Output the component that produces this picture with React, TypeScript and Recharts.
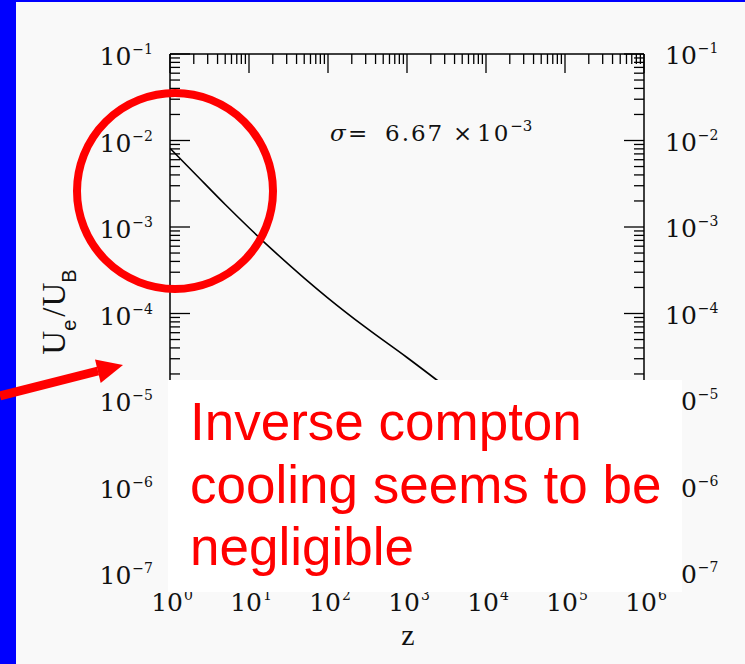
import { Line, LineChart, XAxis, YAxis } from "recharts";

// U_e/U_B against redshift z
const zValues = [1, 2, 5, 10, 20, 50, 100, 300, 1000, 3000];
const energyRatio = [8.13e-3, 4.27e-3, 1.82e-3, 9.8e-4, 5.4e-4, 2.57e-4, 1.51e-4, 6.9e-5, 3.1e-5, 1.45e-5];

const xMajorTicks = [1, 10, 100, 1e3, 1e4, 1e5, 1e6];
const xExponents = ["0", "1", "2", "3", "4", "5", "6"];
const yMajorTicks = [1e-7, 1e-6, 1e-5, 1e-4, 1e-3, 1e-2, 1e-1];
const yExponents = ["−7", "−6", "−5", "−4", "−3", "−2", "−1"];
const minorSteps = [2, 3, 4, 5, 6, 7, 8, 9];

const noteLines = ["Inverse compton", "cooling seems to be", "negligible"];

const data = zValues.map((z, i) => ({ z, u: energyRatio[i] }));

const withMinors = (majors: number[]) => [
  ...majors,
  ...majors.slice(0, -1).flatMap((d) => minorSteps.map((m) => m * d)),
];
const xTicks = withMinors(xMajorTicks);
const yTicks = withMinors(yMajorTicks);

const SERIF = "'Liberation Serif', 'Times New Roman', serif";
const WIDE_SERIF = "'DejaVu Serif', serif";
const SANS = "'Liberation Sans', Arial, sans-serif";
const MAJOR = 20;
const MINOR = 10;

function PowerLabel(props: any) {
  const { x, y, exp, anchor } = props;
  return (
    <text x={x} y={y} textAnchor={anchor} fontFamily={WIDE_SERIF} fontSize={25} fill="#111">
      10
      <tspan dx={1} dy={-11} fontSize={14}>
        {exp}
      </tspan>
    </text>
  );
}

function BottomTick(props: any) {
  const { x, y, payload } = props;
  const i = xMajorTicks.indexOf(payload.value);
  return (
    <g>
      <line x1={x} x2={x} y1={y} y2={y - (i >= 0 ? MAJOR : MINOR)} stroke="#000" strokeWidth={1.3} />
      {i >= 0 && <PowerLabel x={x + 2} y={y + 38} exp={xExponents[i]} anchor="middle" />}
    </g>
  );
}

function TopTick(props: any) {
  const { x, y, payload } = props;
  const major = xMajorTicks.includes(payload.value);
  return <line x1={x} x2={x} y1={y} y2={y + (major ? MAJOR - 1 : MINOR)} stroke="#000" strokeWidth={1.3} />;
}

function LeftTick(props: any) {
  const { x, y, payload } = props;
  const i = yMajorTicks.indexOf(payload.value);
  return (
    <g>
      <line x1={x} x2={x + (i >= 0 ? MAJOR : MINOR)} y1={y} y2={y} stroke="#000" strokeWidth={1.3} />
      {i >= 0 && <PowerLabel x={x - 17} y={y + 11} exp={yExponents[i]} anchor="end" />}
    </g>
  );
}

function RightTick(props: any) {
  const { x, y, payload } = props;
  const i = yMajorTicks.indexOf(payload.value);
  return (
    <g>
      <line x1={x} x2={x - (i >= 0 ? MAJOR : MINOR)} y1={y} y2={y} stroke="#000" strokeWidth={1.3} />
      {i >= 0 && <PowerLabel x={x + 21} y={y + 10} exp={yExponents[i]} anchor="start" />}
    </g>
  );
}

const axisLine = { stroke: "#000", strokeWidth: 1.5 };

export default function App() {
  return (
    <div
      style={{
        position: "absolute",
        left: 0,
        top: 0,
        width: 745,
        height: 664,
        background: "#f9f9f9",
        overflow: "hidden",
      }}
    >
      <div style={{ position: "absolute", left: 0, top: 0, width: 16, height: 664, background: "#0000ff" }} />
      <div style={{ position: "absolute", left: 0, top: 0, width: 745, height: 2, background: "#0000ff" }} />

      <div style={{ position: "absolute", left: 0, top: 0 }}>
        <LineChart width={745} height={664} data={data} margin={{ top: 34, right: 41, bottom: 51, left: 110 }}>
          <XAxis
            xAxisId="bottom"
            dataKey="z"
            type="number"
            scale="log"
            domain={[1, 1e6]}
            allowDataOverflow
            ticks={xTicks}
            interval={0}
            height={40}
            tickSize={0}
            tickMargin={0}
            axisLine={axisLine}
            tickLine={false}
            tick={BottomTick}
          />
          <XAxis
            xAxisId="top"
            orientation="top"
            dataKey="z"
            type="number"
            scale="log"
            domain={[1, 1e6]}
            allowDataOverflow
            ticks={xTicks}
            interval={0}
            height={20}
            tickSize={0}
            tickMargin={0}
            axisLine={axisLine}
            tickLine={false}
            tick={TopTick}
          />
          <YAxis
            yAxisId="left"
            type="number"
            scale="log"
            domain={[1e-7, 1e-1]}
            allowDataOverflow
            ticks={yTicks}
            interval={0}
            width={60}
            tickSize={0}
            tickMargin={0}
            axisLine={axisLine}
            tickLine={false}
            tick={LeftTick}
          />
          <YAxis
            yAxisId="right"
            orientation="right"
            type="number"
            scale="log"
            domain={[1e-7, 1e-1]}
            allowDataOverflow
            ticks={yTicks}
            interval={0}
            width={60}
            tickSize={0}
            tickMargin={0}
            axisLine={axisLine}
            tickLine={false}
            tick={RightTick}
          />
          <Line
            xAxisId="bottom"
            yAxisId="left"
            type="monotone"
            dataKey="u"
            stroke="#000"
            strokeWidth={1.6}
            dot={false}
            isAnimationActive={false}
          />
          <Line
            xAxisId="top"
            yAxisId="right"
            type="linear"
            dataKey="u"
            stroke="none"
            dot={false}
            isAnimationActive={false}
          />
        </LineChart>
      </div>

      <svg
        width={745}
        height={664}
        style={{ position: "absolute", left: 0, top: 0, pointerEvents: "none" }}
      >
        {/* sigma annotation */}
        <text y={141} fontFamily={WIDE_SERIF} fontSize={23} fill="#111">
          <tspan x={330} fontStyle="italic">σ</tspan>
          <tspan x={348}>=</tspan>
          <tspan x={385} letterSpacing={2}>6.67</tspan>
          <tspan x={453}>×</tspan>
          <tspan x={477} letterSpacing={2}>10</tspan>
          <tspan dx={0} dy={-10} fontSize={15}>−3</tspan>
        </text>

        {/* axis titles */}
        <text x={408} y={645} textAnchor="middle" fontFamily={SERIF} fontSize={30} fill="#111">
          z
        </text>
        <g transform="translate(65,312) rotate(-90)">
          <text x={0} y={0} textAnchor="middle" fontFamily={SERIF} fontSize={33} fill="#111">
            U
            <tspan dy={11} fontFamily={SANS} fontSize={20}>e</tspan>
            <tspan dx={3} dy={-11}>/</tspan>
            <tspan dx={1}>U</tspan>
            <tspan dy={11} fontFamily={SANS} fontSize={20}>B</tspan>
          </text>
        </g>

        <circle cx={175} cy={191} r={98} fill="none" stroke="#ff0000" strokeWidth={8} />

        <rect x={168} y={380} width={514} height={212} fill="#ffffff" />
        {noteLines.map((line, i) => (
          <text key={line} x={190} y={440 + i * 62.5} fontFamily={SANS} fontSize={53} fill="#ff0000">
            {line}
          </text>
        ))}

        <line x1={0} y1={396} x2={98} y2={371} stroke="#ff0000" strokeWidth={9} />
        <polygon points="123,365 95,359.5 100.7,383" fill="#ff0000" />
      </svg>
    </div>
  );
}
